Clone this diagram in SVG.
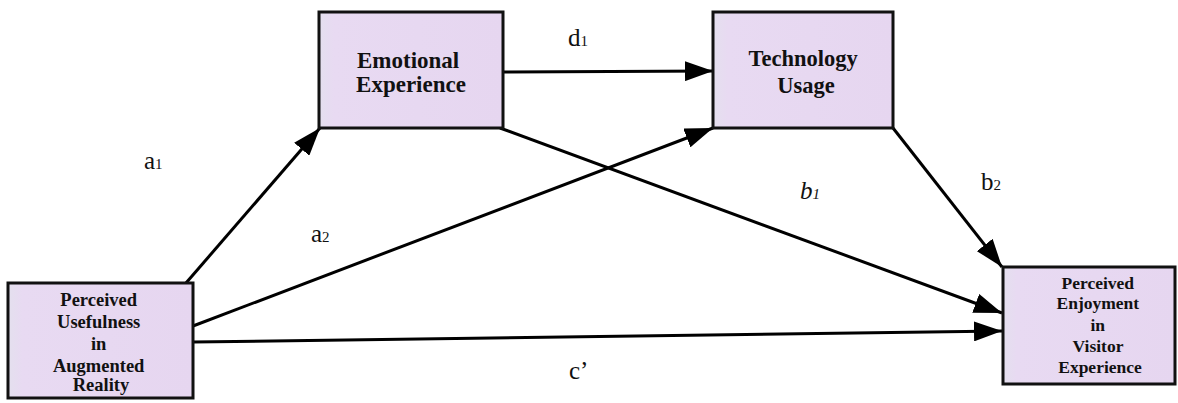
<svg xmlns="http://www.w3.org/2000/svg" width="1178" height="403" viewBox="0 0 1178 403">
<defs>
<linearGradient id="fill" x1="0" y1="0" x2="1" y2="0">
<stop offset="0" stop-color="#e4e0ee"/>
<stop offset="0.08" stop-color="#e8daf2"/>
<stop offset="1" stop-color="#e6d6f0"/>
</linearGradient>
<marker id="arr" viewBox="0 0 28 20" refX="28" refY="10" markerWidth="28" markerHeight="20" markerUnits="userSpaceOnUse" orient="auto">
<path d="M0,0 L28,10 L0,20 z" fill="#000"/>
</marker>
</defs>
<style>
.box{fill:url(#fill);stroke:#111;stroke-width:3}
.bt{font-family:"Liberation Serif",serif;font-weight:bold;fill:#111;text-anchor:middle}
.lbl{font-family:"Liberation Serif",serif;font-size:25px;fill:#111}
.sub{font-size:15px}
.edge{stroke:#000;stroke-width:3;fill:none;marker-end:url(#arr)}
</style>
<rect width="1178" height="403" fill="#fff"/>
<g id="connectors">
<line class="edge" x1="186" y1="283" x2="320" y2="128"/>
<line class="edge" x1="503" y1="72" x2="713" y2="71"/>
<line class="edge" x1="193" y1="326" x2="713" y2="128"/>
<line class="edge" x1="500" y1="128" x2="1002" y2="313"/>
<line class="edge" x1="893" y1="128" x2="1002" y2="267"/>
<line class="edge" x1="193" y1="342" x2="1002" y2="331"/>
</g>
<g id="node-usefulness">
<rect class="box" x="8" y="283" width="185" height="115"/>
<text class="bt" font-size="18.5">
<tspan x="101" y="306">Perceived</tspan>
<tspan x="101" y="328">Usefulness</tspan>
<tspan x="101" y="350">in</tspan>
<tspan x="101" y="372">Augmented</tspan>
<tspan x="101" y="391">Reality</tspan>
</text>
</g>
<g id="node-emotional">
<rect class="box" x="319" y="12" width="184" height="116"/>
<text class="bt" font-size="23">
<tspan x="411" y="68">Emotional</tspan>
<tspan x="411" y="92">Experience</tspan>
</text>
</g>
<g id="node-technology">
<rect class="box" x="713" y="12" width="180" height="116"/>
<text class="bt" font-size="22.5">
<tspan x="806" y="66">Technology</tspan>
<tspan x="806" y="93">Usage</tspan>
</text>
</g>
<g id="node-enjoyment">
<rect class="box" x="1003" y="267" width="172" height="117"/>
<text class="bt" font-size="17.5">
<tspan x="1100" y="289">Perceived</tspan>
<tspan x="1100" y="309">Enjoyment</tspan>
<tspan x="1100" y="331">in</tspan>
<tspan x="1100" y="352">Visitor</tspan>
<tspan x="1100" y="373">Experience</tspan>
</text>
</g>
<g id="labels">
<text class="lbl" x="144" y="169">a<tspan class="sub">1</tspan></text>
<text class="lbl" x="568" y="46">d<tspan class="sub">1</tspan></text>
<text class="lbl" x="311" y="242">a<tspan class="sub">2</tspan></text>
<text class="lbl" x="800" y="199" font-style="italic">b<tspan class="sub">1</tspan></text>
<text class="lbl" x="981" y="190">b<tspan class="sub">2</tspan></text>
<text class="lbl" x="569" y="379">c’</text>
</g>
</svg>
